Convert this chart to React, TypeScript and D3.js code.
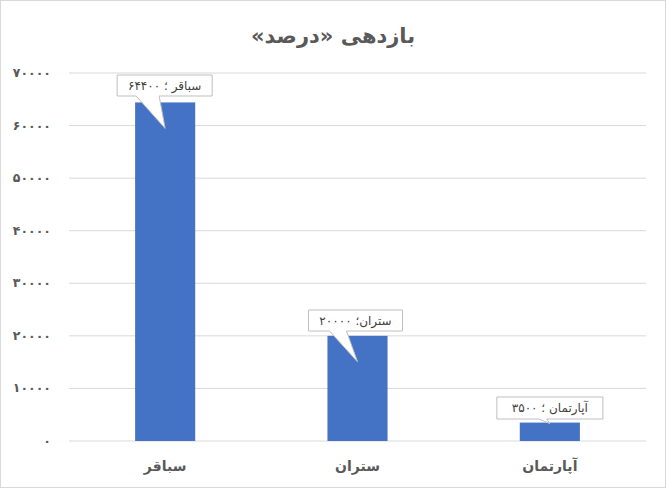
import React from "react";
import * as d3 from "d3";

const categories = ["سباقر", "ستران", "آپارتمان"];
const values = [64400, 20000, 3500];
const calloutLabels = ["سباقر ؛ ۶۴۴۰۰", "ستران؛ ۲۰۰۰۰", "آپارتمان ؛ ۳۵۰۰"];
const yTicks = [0, 10000, 20000, 30000, 40000, 50000, 60000, 70000];
const title = "بازدهی «درصد»";

const W = 667;
const H = 489;
const FONT = "'DejaVu Sans', 'Noto Sans', sans-serif";

const toPersian = (n: number) =>
  String(n).replace(/\d/g, (d) => "۰۱۲۳۴۵۶۷۸۹"[+d]);

export default function App() {
  const x = d3.scaleBand<string>().domain(categories).range([69, 646]).paddingInner(0.6875).paddingOuter(0.34375);
  const y = d3.scaleLinear().domain([0, 70000]).range([441, 73]);
  const bw = x.bandwidth();

  const boxes = [
    { w: 95, dx: -48, h: 21, p1: -29, p2: -6 },
    { w: 94, dx: -49, h: 21, p1: -28, p2: -11 },
    { w: 106, dx: -53, h: 22, p1: -11, p2: -3 },
  ];
  const boxTop = [75, 310, 397];

  return (
    <svg width={W} height={H} style={{ position: "absolute", left: 0, top: 0, background: "#fff" }} fontFamily={FONT}>
      <rect x={0.5} y={0.5} width={W - 2} height={H - 2} fill="#fff" stroke="#d9d9d9" />
      <text x={333} y={43} textAnchor="middle" fontSize={21} fontWeight="bold" fill="#595959" direction="rtl">
        {title}
      </text>
      {yTicks.map((t) => (
        <g key={t}>
          <line x1={69} x2={646} y1={y(t)} y2={y(t)} stroke="#d9d9d9" strokeWidth={1} />
          <text x={51} y={y(t) + 4} textAnchor="end" fontSize={12.5} fontWeight="bold" fill="#595959">
            {toPersian(t)}
          </text>
        </g>
      ))}
      {categories.map((c, i) => (
        <rect key={c} x={x(c)!} y={y(values[i])} width={bw} height={y(0) - y(values[i])} fill="#4472c4" />
      ))}
      {categories.map((c) => (
        <text key={c} x={x(c)! + bw / 2} y={471} textAnchor="middle" fontSize={14} fontWeight="bold" fill="#595959" direction="rtl">
          {c}
        </text>
      ))}
      {categories.map((c, i) => {
        const cx = x(c)! + bw / 2;
        const b = boxes[i];
        const bx = cx + b.dx;
        const by = boxTop[i];
        const bb = by + b.h;
        const tipX = cx;
        const tipY = i === 2 ? y(values[i]) + 1 : y(values[i]) + 26;
        const d = `M${bx},${by} H${bx + b.w} V${bb} H${cx + b.p2} L${tipX},${tipY} L${cx + b.p1},${bb} H${bx} Z`;
        return (
          <g key={"c" + c}>
            <path d={d} fill="#fff" stroke="#bfbfbf" strokeWidth={1} />
            <text x={bx + b.w / 2} y={by + b.h / 2 + 4} textAnchor="middle" fontSize={12} fill="#404040" direction="rtl" letterSpacing={0.5}>
              {calloutLabels[i]}
            </text>
          </g>
        );
      })}
    </svg>
  );
}
